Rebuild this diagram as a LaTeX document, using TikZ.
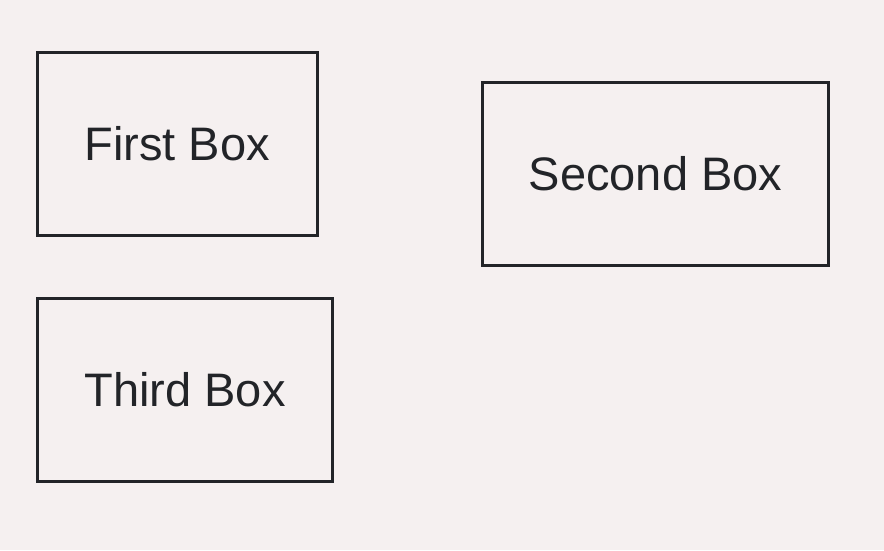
\documentclass[tikz,border=0pt]{standalone}
\usepackage{fontspec}
\setmainfont{Liberation Sans}
\definecolor{bg}{HTML}{F5F0F0}
\definecolor{ink}{HTML}{222428}
\begin{document}
\begin{tikzpicture}[x=1pt,y=-1pt,
  boxnode/.style={draw=ink, line width=2.7pt, inner sep=0pt, text=ink,
    font=\fontsize{47}{51}\selectfont}]
\fill[bg] (0,0) rectangle (884,550);
\useasboundingbox (0,0) rectangle (884,550);
\node[boxnode, minimum width=280pt, minimum height=183pt] (first) at (177.3,143.8) {First Box};
\node[boxnode, minimum width=346.4pt, minimum height=183pt] (second) at (655.5,173.8) {Second Box};
\node[boxnode, minimum width=295.4pt, minimum height=183pt] (third) at (185,389.8) {Third Box};
\end{tikzpicture}
\end{document}
